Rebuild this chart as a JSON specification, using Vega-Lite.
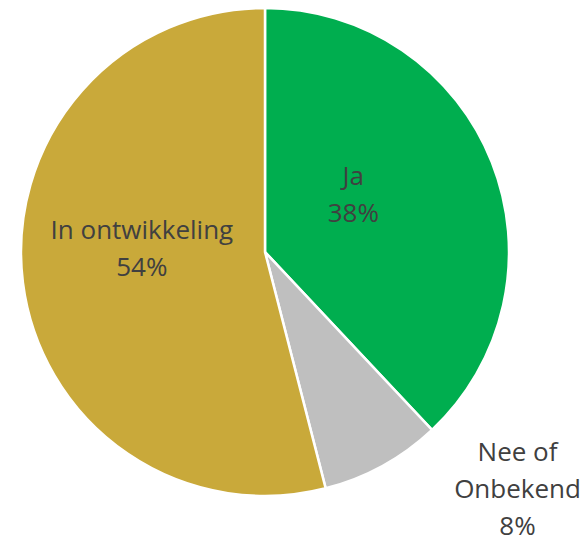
{
  "$schema": "https://vega.github.io/schema/vega-lite/v6.json",
  "width": 530,
  "height": 504,
  "autosize": "none",
  "padding": {"left": 0, "top": 0, "right": 55, "bottom": 36},
  "background": "white",
  "config": {"view": {"stroke": null}},
  "data": {
    "values": [
      {"cat": "Ja", "pct": 38, "rank": 1, "label": "Ja\n38%"},
      {"cat": "Nee of Onbekend", "pct": 8, "rank": 2, "label": "Nee of\nOnbekend\n8%"},
      {"cat": "In ontwikkeling", "pct": 54, "rank": 3, "label": "In ontwikkeling\n54%"}
    ]
  },
  "encoding": {
    "theta": {"field": "pct", "type": "quantitative", "stack": true},
    "order": {"field": "rank", "type": "quantitative"},
    "color": {
      "field": "cat",
      "type": "nominal",
      "legend": null,
      "scale": {
        "domain": ["Ja", "Nee of Onbekend", "In ontwikkeling"],
        "range": ["#00AE4F", "#BFBFBF", "#C9A93A"]
      }
    }
  },
  "layer": [
    {
      "mark": {"type": "arc", "outerRadius": 244, "stroke": "white", "strokeWidth": 2.5}
    },
    {
      "mark": {"type": "text", "radius": 110, "dx": -14, "dy": -35, "font": "Open Sans", "fontSize": 26, "lineHeight": 37, "lineBreak": "\n", "align": "center", "baseline": "middle", "color": "#404040"},
      "encoding": {
        "color": {"value": "#404040"},
        "text": {"condition": {"test": "datum.cat === 'Nee of Onbekend'", "value": ""}, "field": "label"}
      }
    },
    {
      "mark": {"type": "text", "radius": 300, "dx": 108, "dy": -62, "font": "Open Sans", "fontSize": 26, "lineHeight": 37, "lineBreak": "\n", "align": "center", "baseline": "middle", "color": "#404040"},
      "encoding": {
        "color": {"value": "#404040"},
        "text": {"condition": {"test": "datum.cat !== 'Nee of Onbekend'", "value": ""}, "field": "label"}
      }
    }
  ]
}
